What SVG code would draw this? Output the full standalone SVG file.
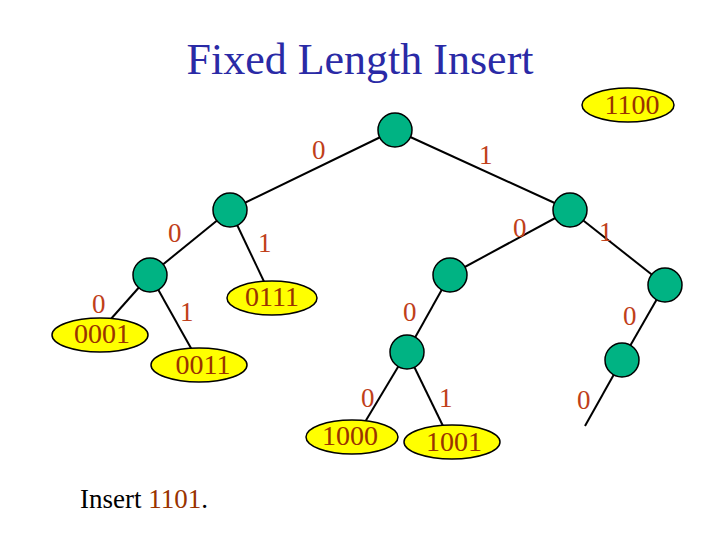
<svg xmlns="http://www.w3.org/2000/svg" width="720" height="540" viewBox="0 0 720 540">
<style>
.n{fill:#00b383;stroke:#000;stroke-width:1.5}
.l{fill:#ffff00;stroke:#000;stroke-width:1.5}
.e{stroke:#000;stroke-width:2}
text{font-family:"Liberation Serif",serif}
.b{fill:#c0401a;font-size:27px}
.t{fill:#993300;font-size:28px;text-anchor:middle}
</style>
<rect width="720" height="540" fill="#fff"/>
<text x="360" y="74" font-size="44" fill="#2a2aa6" text-anchor="middle">Fixed Length Insert</text>
<g id="edges">
<line class="e" x1="395" y1="130" x2="230" y2="210"/>
<line class="e" x1="395" y1="130" x2="570" y2="210"/>
<line class="e" x1="230" y1="210" x2="150" y2="275"/>
<line class="e" x1="230" y1="210" x2="268" y2="290"/>
<line class="e" x1="150" y1="275" x2="110" y2="320"/>
<line class="e" x1="150" y1="275" x2="192" y2="350"/>
<line class="e" x1="570" y1="210" x2="450" y2="275"/>
<line class="e" x1="570" y1="210" x2="665" y2="285"/>
<line class="e" x1="450" y1="275" x2="407" y2="352"/>
<line class="e" x1="665" y1="285" x2="622" y2="360"/>
<line class="e" x1="407" y1="352" x2="365" y2="422"/>
<line class="e" x1="407" y1="352" x2="443" y2="426"/>
<line class="e" x1="622" y1="360" x2="585" y2="426"/>
</g>
<g id="root"><circle class="n" cx="395" cy="130" r="17"/></g>
<g id="nA"><circle class="n" cx="230" cy="210" r="17"/></g>
<g id="nB"><circle class="n" cx="570" cy="210" r="17"/></g>
<g id="nC"><circle class="n" cx="150" cy="275" r="17"/></g>
<g id="nD"><circle class="n" cx="450" cy="275" r="17"/></g>
<g id="nE"><circle class="n" cx="665" cy="285" r="17"/></g>
<g id="nF"><circle class="n" cx="407" cy="352" r="17"/></g>
<g id="nG"><circle class="n" cx="622" cy="360" r="17"/></g>
<g id="l1100"><ellipse class="l" cx="628" cy="105" rx="46" ry="17"/><text class="t" x="632" y="114">1100</text></g>
<g id="l0111"><ellipse class="l" cx="272" cy="298" rx="45" ry="17"/><text class="t" x="272" y="306">0111</text></g>
<g id="l0001"><ellipse class="l" cx="100" cy="335" rx="48" ry="17"/><text class="t" x="102" y="343">0001</text></g>
<g id="l0011"><ellipse class="l" cx="199" cy="365" rx="48" ry="17"/><text class="t" x="203" y="374">0011</text></g>
<g id="l1000"><ellipse class="l" cx="352" cy="437" rx="46" ry="17"/><text class="t" x="350" y="445">1000</text></g>
<g id="l1001"><ellipse class="l" cx="452" cy="442" rx="48" ry="17"/><text class="t" x="454" y="451">1001</text></g>
<g id="bits">
<text class="b" x="312" y="159">0</text>
<text class="b" x="479" y="164">1</text>
<text class="b" x="168" y="242">0</text>
<text class="b" x="258" y="252">1</text>
<text class="b" x="513" y="237">0</text>
<text class="b" x="599" y="241">1</text>
<text class="b" x="92" y="313">0</text>
<text class="b" x="180" y="321">1</text>
<text class="b" x="403" y="321">0</text>
<text class="b" x="623" y="325">0</text>
<text class="b" x="361" y="407">0</text>
<text class="b" x="439" y="407">1</text>
<text class="b" x="577" y="409">0</text>
</g>
<text x="80" y="508" font-size="27" fill="#000">Insert <tspan fill="#993300">1101</tspan>.</text>
</svg>
